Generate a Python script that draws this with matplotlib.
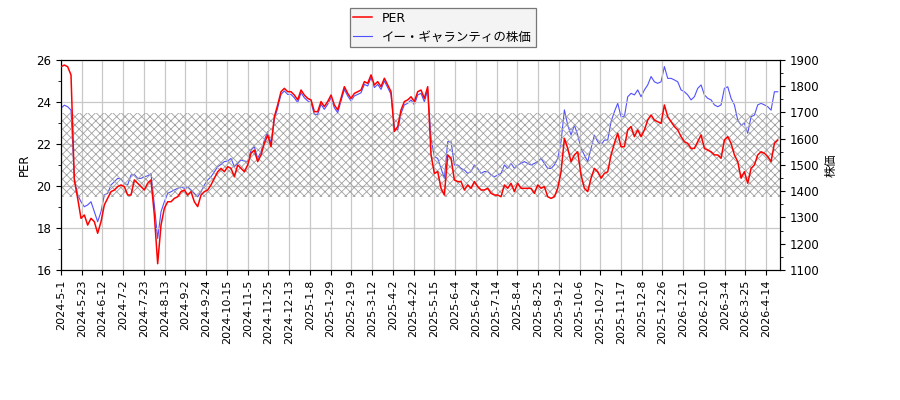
import numpy as np
import matplotlib
matplotlib.use("Agg")
import matplotlib.pyplot as plt
from matplotlib.ticker import MultipleLocator

plt.rcParams['font.family'] = ['DejaVu Sans', 'Noto Sans CJK JP']
plt.rcParams['hatch.linewidth'] = 0.6

tick_labels = [
    "2024-5-1", "2024-5-23", "2024-6-12", "2024-7-2", "2024-7-23", "2024-8-13",
    "2024-9-2", "2024-9-24", "2024-10-15", "2024-11-5", "2024-11-25", "2024-12-13",
    "2025-1-8", "2025-1-29", "2025-2-19", "2025-3-12", "2025-4-2", "2025-4-22",
    "2025-5-15", "2025-6-4", "2025-6-24", "2025-7-14", "2025-8-4", "2025-8-25",
    "2025-9-12", "2025-10-6", "2025-10-27", "2025-11-17", "2025-12-8", "2025-12-26",
    "2026-1-21", "2026-2-10", "2026-3-4", "2026-3-25", "2026-4-14",
]

per = [
    25.68, 25.76, 25.68, 25.29, 20.29, 19.41, 18.46, 18.62, 18.14, 18.46,
    18.30, 17.75, 18.30, 19.10, 19.41, 19.73, 19.81, 19.97, 20.05, 19.97,
    19.57, 19.57, 20.29, 20.13, 19.97, 19.81, 20.13, 20.29, 18.62, 16.30,
    18.14, 18.94, 19.25, 19.25, 19.41, 19.49, 19.73, 19.81, 19.57, 19.73,
    19.25, 19.02, 19.57, 19.73, 19.81, 20.05, 20.37, 20.68, 20.84, 20.68,
    20.92, 20.84, 20.44, 21.00, 20.84, 20.68,
    21.00, 21.56, 21.71, 21.16, 21.48, 22.03, 22.43, 21.87, 23.30, 23.86,
    24.49, 24.65, 24.49, 24.49, 24.33, 24.10, 24.57, 24.33, 24.17, 24.10,
    23.54, 23.54, 24.02, 23.78, 24.02, 24.33, 23.86, 23.62, 24.17, 24.73,
    24.41, 24.17, 24.41, 24.49, 24.57, 24.97, 24.89, 25.29, 24.81, 24.97,
    24.73, 25.13, 24.81, 24.49, 22.60, 22.83, 23.62, 24.02, 24.10, 24.25,
    24.02, 24.49, 24.57, 24.17, 24.73,
    21.48, 20.60, 20.68, 19.89, 19.57, 21.48, 21.32, 20.29, 20.21, 20.21,
    19.81, 20.05, 19.89, 20.21, 19.97, 19.81, 19.81, 19.89, 19.65, 19.57,
    19.57, 19.49, 20.05, 19.89, 20.13, 19.73, 20.13, 19.89, 19.89, 19.89,
    19.89, 19.65, 20.05, 19.89, 19.97, 19.49, 19.41, 19.49, 19.89, 20.68,
    22.27, 21.79, 21.16, 21.48, 21.63, 20.52, 19.89, 19.73, 20.37, 20.84,
    20.68, 20.37, 20.60, 20.68, 21.48, 22.03,
    22.51, 21.87, 21.87, 22.67, 22.83, 22.35, 22.67, 22.35, 22.67, 23.14,
    23.38, 23.14, 23.06, 22.98, 23.86, 23.30, 23.06, 22.83, 22.67, 22.35,
    22.11, 22.03, 21.79, 21.79, 22.11, 22.43, 21.79, 21.71, 21.63, 21.48,
    21.48, 21.32, 22.19, 22.35, 22.03, 21.48, 21.16, 20.37, 20.68, 20.13,
    20.84, 21.00, 21.48, 21.63, 21.56, 21.40, 21.16, 22.03, 22.19,
]

price = [
    1716, 1728, 1722, 1709, 1449, 1386, 1360, 1341, 1348, 1360,
    1322, 1284, 1322, 1386, 1392, 1424, 1436, 1449, 1447, 1430,
    1424, 1462, 1464, 1449, 1449, 1455, 1459, 1467, 1348, 1220,
    1322, 1360, 1392, 1398, 1405, 1411, 1417, 1411, 1417, 1405,
    1392, 1379, 1398, 1424, 1443, 1455, 1474, 1494, 1502, 1513,
    1515, 1525, 1494, 1506, 1519, 1515,
    1513, 1557, 1570, 1525, 1551, 1595, 1627, 1583, 1674, 1718,
    1769, 1782, 1769, 1769, 1756, 1737, 1775, 1756, 1744, 1737,
    1693, 1693, 1731, 1712, 1731, 1756, 1718, 1699, 1744, 1788,
    1763, 1744, 1763, 1769, 1775, 1807, 1801, 1833, 1795, 1807,
    1788, 1820, 1795, 1769, 1640, 1633, 1697, 1729, 1735, 1748,
    1729, 1767, 1773, 1741, 1786,
    1602, 1532, 1525, 1487, 1449, 1589, 1589, 1500, 1500, 1487,
    1481, 1468, 1475, 1500, 1487, 1468, 1475, 1475, 1462, 1455,
    1462, 1468, 1500, 1487, 1506, 1487, 1500, 1506, 1513, 1506,
    1500, 1506, 1513, 1525, 1506, 1487, 1487, 1500, 1525, 1589,
    1710, 1652, 1614, 1652, 1614, 1563, 1538, 1513, 1563, 1614,
    1589, 1576, 1595, 1595, 1665, 1703,
    1735, 1684, 1684, 1760, 1773, 1767, 1786, 1760, 1786, 1805,
    1837, 1817, 1811, 1817, 1875, 1830, 1830, 1824, 1817, 1786,
    1779, 1767, 1748, 1760, 1792, 1805, 1767, 1754, 1748, 1729,
    1722, 1729, 1792, 1798, 1754, 1729, 1671, 1652, 1659, 1621,
    1684, 1690, 1729, 1735, 1729, 1722, 1709, 1779, 1779,
]

band_low, band_high = 19.5, 23.5

n = len(per)
x = np.arange(n) * 2.411
tick_pos = np.arange(len(tick_labels)) * 15

fig = plt.figure(figsize=(9, 4), dpi=100)
ax = fig.add_axes([61/900, 1-270/400, (780-61)/900, 210/400])
ax2 = ax.twinx()
ax.set_zorder(ax2.get_zorder() + 1)
ax.patch.set_visible(False)

ax.axhspan(band_low, band_high, facecolor='none', edgecolor='#a0a0a0',
           hatch='xxxx', linewidth=0, zorder=1)
l1, = ax.plot(x, per, color='#ff0000', lw=1.1, zorder=3, label='PER')
l2, = ax2.plot(x, price, color='#5050ff', lw=0.8, label='イー・ギャランティの株価')

ax.set_xlim(0, 520)
ax.set_ylim(16, 26)
ax2.set_ylim(1100, 1900)
ax.yaxis.set_major_locator(MultipleLocator(2))
ax.yaxis.set_minor_locator(MultipleLocator(1))
ax2.yaxis.set_major_locator(MultipleLocator(100))
ax2.yaxis.set_minor_locator(MultipleLocator(50))

ax.set_xticks(tick_pos)
ax.set_xticklabels(tick_labels, rotation=90, fontsize=8)
ax.tick_params(axis='y', labelsize=8.5)
ax2.tick_params(axis='y', labelsize=8.5)

ax.grid(True, color='#c8c8c8', lw=0.9)
ax.set_axisbelow(True)

ax.set_ylabel('PER', fontsize=8.5)
ax2.set_ylabel('株価', fontsize=8.5)

leg = fig.legend(handles=[l1, l2], loc='upper center', bbox_to_anchor=(0.492, 0.98),
                 fontsize=9, frameon=True, fancybox=False, framealpha=1,
                 handlelength=1.5, borderpad=0.3, labelspacing=0.45,
                 borderaxespad=0)
leg.get_frame().set_facecolor('#f4f4f4')
leg.get_frame().set_edgecolor('#777777')
leg.get_frame().set_linewidth(0.9)

fig.savefig('out.png', dpi=100)
